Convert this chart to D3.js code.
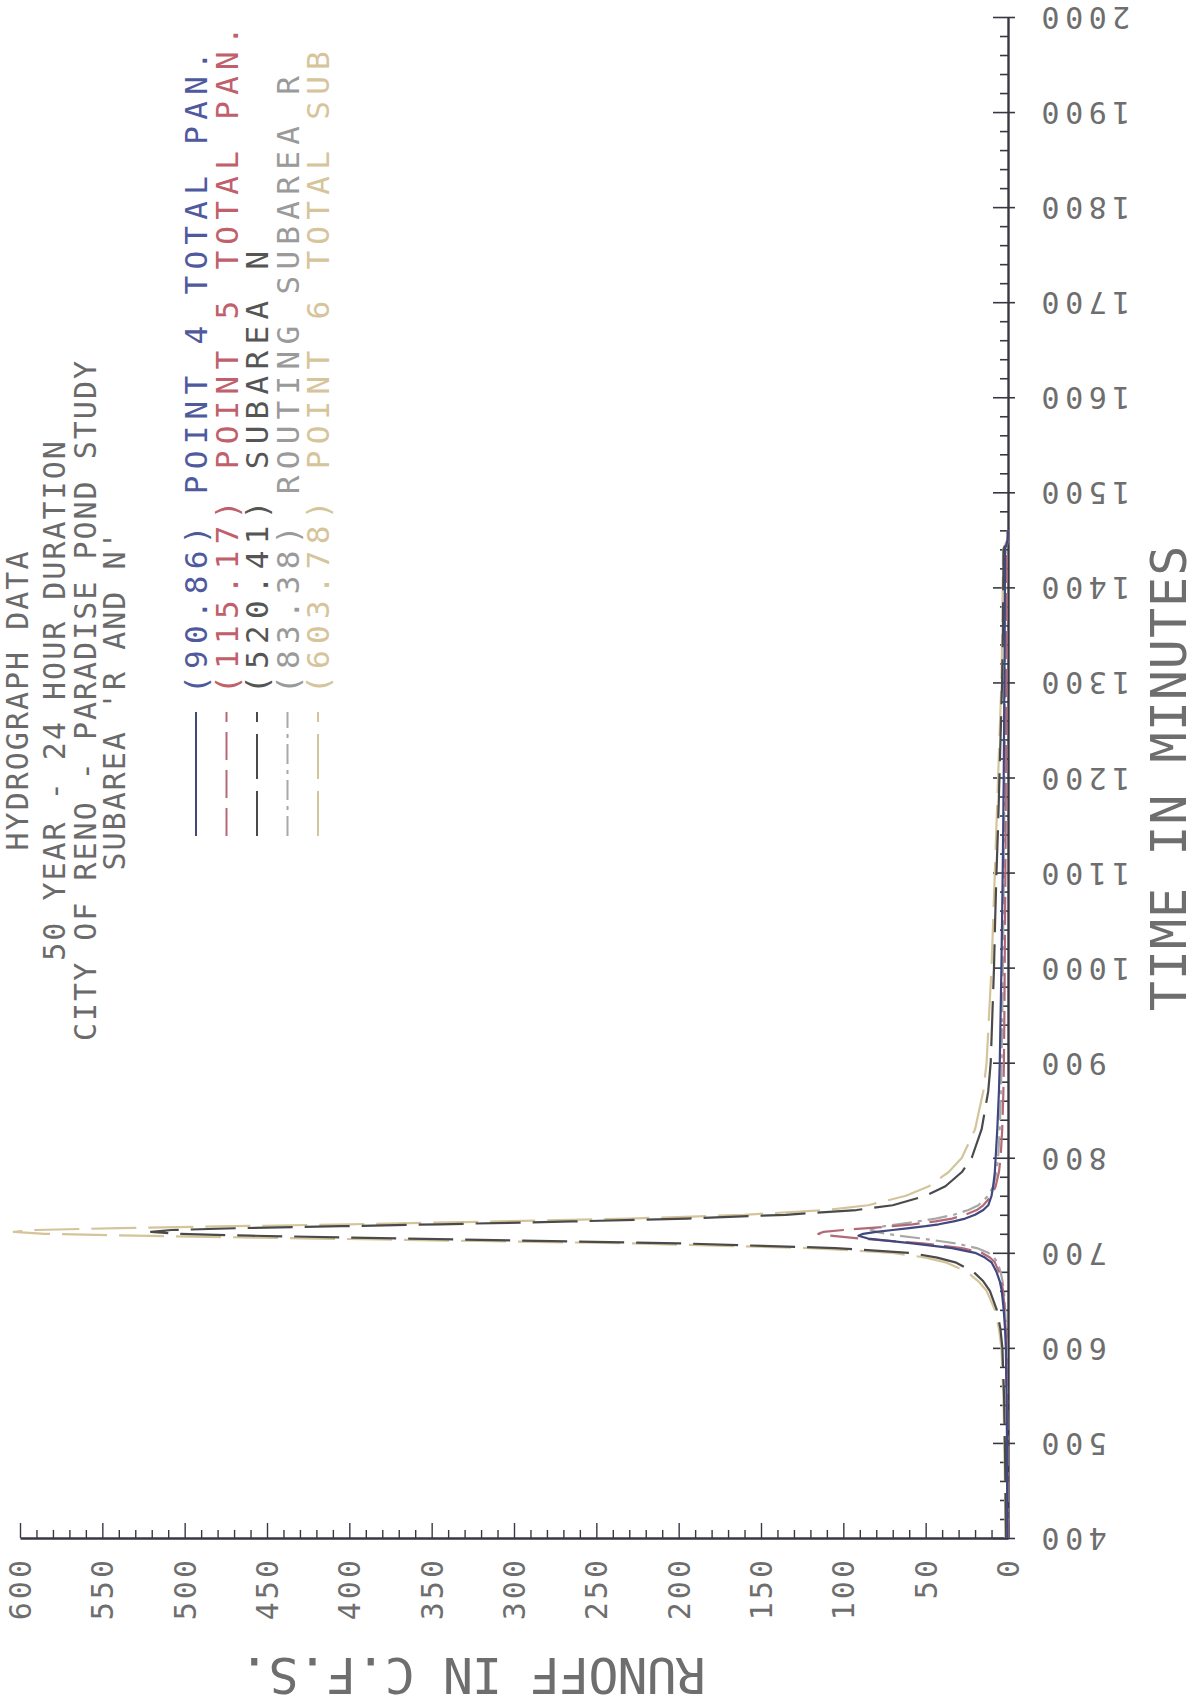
<!DOCTYPE html>
<html>
<head>
<meta charset="utf-8">
<script src="https://cdn.jsdelivr.net/npm/d3@7"></script>
<style>
  html, body { margin: 0; padding: 0; background: #fff; }
  svg { display: block; }
  text { font-family: "DejaVu Sans Mono", "Liberation Mono", monospace; }
</style>
</head>
<body>
<svg id="chart" width="1202" height="1705"></svg>
<script>
// ---------------- DATA ----------------
const titleLines = ["HYDROGRAPH DATA", "50 YEAR - 24 HOUR DURATION", "CITY OF RENO - PARADISE POND STUDY", "SUBAREA 'R AND N'"];
const xAxisTitle = "TIME IN MINUTES";
const yAxisTitle = "RUNOFF IN C.F.S.";
const timeTicks = [400, 500, 600, 700, 800, 900, 1000, 1100, 1200, 1300, 1400, 1500, 1600, 1700, 1800, 1900, 2000];
const runoffTicks = [0, 50, 100, 150, 200, 250, 300, 350, 400, 450, 500, 550, 600];
const seriesNames = ["(90.86) POINT 4 TOTAL PAN.", "(115.17) POINT 5 TOTAL PAN.", "(520.41) SUBAREA N", "(83.38) ROUTING SUBAREA R", "(603.78) POINT 6 TOTAL SUB"];

const timeMin = [400, 450, 500, 550, 600, 620, 640, 660, 670, 680, 690, 695, 700, 705, 710, 715, 718, 720, 722, 724, 726, 728, 730, 733, 736, 740, 745, 750, 760, 770, 785, 800, 830, 870, 900, 950, 1000, 1050, 1100, 1150, 1200, 1250, 1300, 1350, 1400, 1440, 1450, 1460];

const point4 = [0.4, 0.5, 0.6, 0.9, 1.3, 1.8, 2.6, 3.8, 5, 7, 10, 14, 20, 34, 58, 85, 90.86, 88, 80, 70, 60, 50, 42, 33, 26, 20, 15, 12, 10, 9, 8, 7.5, 6.5, 5.5, 5, 4.5, 4, 3.6, 3.2, 2.9, 2.6, 2.4, 2.2, 2, 1.9, 1.8, 0.2, 0];
const point5 = [0.3, 0.4, 0.5, 0.7, 1, 1.4, 2, 3, 4, 5.5, 8, 11, 16, 28, 52, 90, 108, 115.17, 112, 100, 85, 70, 58, 44, 34, 26, 19, 15, 10, 7.5, 5.5, 4.5, 3.5, 2.8, 2.5, 2.2, 2, 1.8, 1.6, 1.4, 1.3, 1.2, 1.1, 1, 0.9, 0.9, 0.1, 0];
const subareaN = [1.2, 1.5, 1.9, 2.4, 3.4, 4.6, 6.8, 11, 15, 21, 32, 43, 60, 105, 200, 365, 460, 505, 520.41, 508, 465, 405, 345, 265, 195, 135, 92, 70, 50, 38, 28, 22, 16, 12, 10.5, 9.5, 8.5, 7.8, 7, 6, 5.2, 4.4, 3.6, 3.1, 2.9, 2.7, 0.4, 0];
const routingR = [0.2, 0.3, 0.4, 0.6, 0.9, 1.2, 1.7, 2.5, 3.3, 4.5, 6.5, 8.5, 12, 19, 32, 52, 66, 74, 80, 83.38, 81, 75, 67, 55, 44, 33, 24, 18, 12, 9, 7, 6, 5, 4.3, 3.9, 3.5, 3.1, 2.8, 2.5, 2.3, 2.1, 1.9, 1.8, 1.7, 1.6, 1.5, 0.2, 0];
const point6 = [1.5, 1.8, 2.2, 2.8, 4, 5.5, 8, 13, 18, 25, 38, 50, 70, 120, 230, 420, 530, 585, 603.78, 590, 540, 470, 400, 310, 230, 160, 110, 85, 62, 48, 36, 28, 20, 15, 13, 11.5, 10, 9, 8, 7, 6, 5, 4, 3.5, 3.2, 3, 0.5, 0];

const seriesValues = [point4, point5, subareaN, routingR, point6];

// ---------------- STYLE ----------------
const textColors = ["#4f5a9e", "#c0606a", "#555555", "#9a9a9a", "#d6c49a"];
const lineColors = ["#41487f", "#b36a78", "#4a4a4a", "#a8a8a8", "#d4c49a"];
const lineDash = [null, "28,10", "45,12", "20,6,4,6", "45,12"];

const svg = d3.select("#chart");
const W = 1202, H = 1705;
svg.append("rect").attr("width", W).attr("height", H).attr("fill", "#fff");

// rotated plot: time runs upward on the right axis, runoff runs leftward along the bottom
const x = d3.scaleLinear().domain([0, 600]).range([1008, 20]);   // runoff
const y = d3.scaleLinear().domain([400, 2000]).range([1538, 17]); // time

const axisColor = "#383844";
const labelColor = "#6e6e6e";

// ---- time axis (vertical, right) ----
const minorT = d3.range(400, 2001, 20).filter(v => v % 100 !== 0);
svg.append("g").attr("transform", `translate(${x(0)},0)`)
  .call(d3.axisLeft(y).tickValues(minorT).tickSize(8).tickFormat(""))
  .call(g => g.select(".domain").remove())
  .selectAll("line").attr("stroke", axisColor).attr("stroke-width", 1.6);

const tAxis = svg.append("g").attr("transform", `translate(${x(0)},0)`)
  .call(d3.axisRight(y).tickValues(timeTicks).tickSizeInner(7).tickSizeOuter(0).tickFormat(d => d));
tAxis.select(".domain").attr("stroke", axisColor).attr("stroke-width", 2.4);
tAxis.selectAll(".tick line").attr("stroke", axisColor).attr("stroke-width", 1.6).attr("x1", -15);
tAxis.selectAll(".tick text")
  .attr("x", null).attr("dy", null)
  .attr("transform", "translate(28,0) rotate(180)")
  .attr("text-anchor", "end")
  .attr("dominant-baseline", "central")
  .attr("fill", labelColor)
  .attr("font-size", 30)
  .attr("letter-spacing", 5.5)
  .attr("font-family", "DejaVu Sans Mono");

// ---- runoff axis (horizontal, bottom) ----
const minorQ = d3.range(0, 601, 10).filter(v => v % 50 !== 0);
svg.append("g").attr("transform", `translate(0,${y(400)})`)
  .call(d3.axisBottom(x).tickValues(minorQ).tickSize(-8).tickFormat(""))
  .call(g => g.select(".domain").remove())
  .selectAll("line").attr("stroke", axisColor).attr("stroke-width", 1.4);

const qAxis = svg.append("g").attr("transform", `translate(0,${y(400)})`)
  .call(d3.axisBottom(x).tickValues(runoffTicks).tickSizeInner(-15).tickSizeOuter(0).tickFormat(d => d));
qAxis.select(".domain").attr("stroke", axisColor).attr("stroke-width", 2.4);
qAxis.selectAll(".tick line").attr("stroke", axisColor).attr("stroke-width", 1.4);
qAxis.selectAll(".tick text")
  .attr("y", null).attr("dy", null)
  .attr("transform", "translate(0,19) rotate(-90)")
  .attr("text-anchor", "end")
  .attr("dominant-baseline", "central")
  .attr("fill", labelColor)
  .attr("font-size", 30)
  .attr("letter-spacing", 3)
  .attr("font-family", "DejaVu Sans Mono");

// ---- axis titles ----
svg.append("text")
  .attr("transform", "translate(473,1675) rotate(180)")
  .attr("text-anchor", "middle").attr("dominant-baseline", "central")
  .attr("font-size", 50).attr("letter-spacing", -1)
  .attr("fill", labelColor)
  .text(yAxisTitle);

svg.append("text")
  .attr("transform", "translate(1169,778) rotate(-90)")
  .attr("text-anchor", "middle").attr("dominant-baseline", "central")
  .attr("font-size", 50).attr("letter-spacing", 1)
  .attr("fill", labelColor)
  .text(xAxisTitle);

// ---- title block ----
const titleX = [17, 54, 85, 114];
titleLines.forEach((t, i) => {
  svg.append("text")
    .attr("transform", `translate(${titleX[i]},700) rotate(-90)`)
    .attr("text-anchor", "middle").attr("dominant-baseline", "central")
    .attr("font-size", 30).attr("letter-spacing", 2)
    .attr("fill", "#6a6a6a")
    .text(t);
});

// ---- series ----
const line = d3.line()
  .x(d => x(d))
  .y((d, i) => y(timeMin[i]));

const order = [4, 2, 3, 1, 0];
order.forEach(k => {
  svg.append("path")
    .datum(seriesValues[k])
    .attr("d", line)
    .attr("fill", "none")
    .attr("stroke", lineColors[k])
    .attr("stroke-width", 2.2)
    .attr("stroke-dasharray", lineDash[k])
    .attr("stroke-linejoin", "round");
});

// ---- legend ----
const legendX = d3.scalePoint().domain(d3.range(seriesNames.length)).range([196, 318]);
seriesNames.forEach((name, k) => {
  const lx = legendX(k);
  svg.append("line")
    .attr("x1", lx).attr("x2", lx)
    .attr("y1", 836).attr("y2", 712)
    .attr("stroke", lineColors[k]).attr("stroke-width", 2)
    .attr("stroke-dasharray", lineDash[k]);
  svg.append("text")
    .attr("transform", `translate(${lx},694) rotate(-90)`)
    .attr("text-anchor", "start").attr("dominant-baseline", "central")
    .attr("font-size", 31).attr("letter-spacing", 6.3)
    .attr("fill", textColors[k])
    .text(name);
});
</script>
</body>
</html>
